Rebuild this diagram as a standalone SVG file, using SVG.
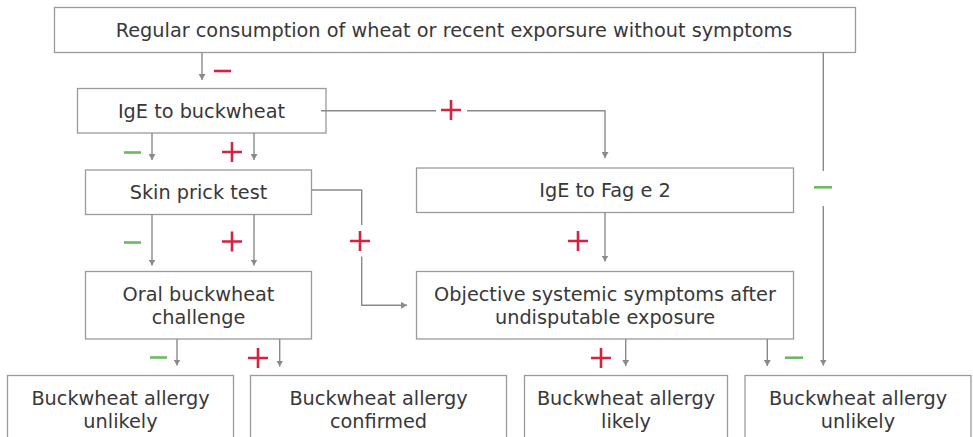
<svg xmlns="http://www.w3.org/2000/svg" width="973" height="437" viewBox="0 0 973 437">
  <style>
    .box { fill: #ffffff; stroke: #9a9a9a; stroke-width: 1.3; }
    .lbl { font-family: "DejaVu Sans", "Liberation Sans", sans-serif; font-size: 19.3px; fill: #383838; text-anchor: middle; }
    .wire { fill: none; stroke: #8a8a8a; stroke-width: 1.4; }
    .arr { marker-end: url(#tip); }
    .pos { stroke: #d3233f; stroke-width: 2.6; fill: none; }
    .neg { stroke: #6cb865; stroke-width: 2.6; fill: none; }
    .negr { stroke: #d3233f; stroke-width: 2.6; fill: none; }
  </style>
  <defs>
    <marker id="tip" viewBox="0 0 6 7" refX="6" refY="3.5" markerWidth="6" markerHeight="7" markerUnits="userSpaceOnUse" orient="auto">
      <path d="M0,0 L6,3.5 L0,7 Z" fill="#8a8a8a"/>
    </marker>
  </defs>

  <rect width="973" height="437" fill="#ffffff"/>

  <!-- nodes -->
  <g id="start">
    <rect class="box" x="54.5" y="7.5" width="801" height="45"/>
    <text class="lbl" x="454" y="37">Regular consumption of wheat or recent exporsure without symptoms</text>
  </g>
  <g id="ige-buckwheat">
    <rect class="box" x="77.5" y="88.5" width="248.5" height="44.5"/>
    <text class="lbl" x="201.5" y="117.5">IgE to buckwheat</text>
  </g>
  <g id="skin-prick">
    <rect class="box" x="85.5" y="170" width="226" height="44.5"/>
    <text class="lbl" x="198.5" y="198.5">Skin prick test</text>
  </g>
  <g id="ige-fag">
    <rect class="box" x="416.5" y="168" width="377" height="44.5"/>
    <text class="lbl" x="605" y="197">IgE to Fag e 2</text>
  </g>
  <g id="oral-challenge">
    <rect class="box" x="85.5" y="271.5" width="226" height="67.5"/>
    <text class="lbl" x="198.5" y="300.5">Oral buckwheat</text>
    <text class="lbl" x="198.5" y="324">challenge</text>
  </g>
  <g id="objective-symptoms">
    <rect class="box" x="416.5" y="271.5" width="377" height="67.5"/>
    <text class="lbl" x="605" y="300.5">Objective systemic symptoms after</text>
    <text class="lbl" x="605" y="324">undisputable exposure</text>
  </g>
  <g id="unlikely-left">
    <rect class="box" x="7.5" y="375.5" width="226" height="75"/>
    <text class="lbl" x="120.5" y="405">Buckwheat allergy</text>
    <text class="lbl" x="120.5" y="428">unlikely</text>
  </g>
  <g id="confirmed">
    <rect class="box" x="250.5" y="375.5" width="256" height="75"/>
    <text class="lbl" x="378.5" y="405">Buckwheat allergy</text>
    <text class="lbl" x="378.5" y="428">confirmed</text>
  </g>
  <g id="likely">
    <rect class="box" x="524.5" y="375.5" width="203" height="75"/>
    <text class="lbl" x="626" y="405">Buckwheat allergy</text>
    <text class="lbl" x="626" y="428">likely</text>
  </g>
  <g id="unlikely-right">
    <rect class="box" x="745" y="375.5" width="226" height="75"/>
    <text class="lbl" x="858" y="405">Buckwheat allergy</text>
    <text class="lbl" x="858" y="428">unlikely</text>
  </g>

  <!-- connectors -->
  <g id="connectors">
    <path class="wire arr" d="M202,52.5 V80"/>
    <path class="wire" d="M321,110.7 H436"/>
    <path class="wire arr" d="M467,110.7 H605 V158"/>
    <path class="wire arr" d="M152,133 V160"/>
    <path class="wire arr" d="M254,133 V160"/>
    <path class="wire" d="M311.5,190 H361.7 V225"/>
    <path class="wire arr" d="M361.7,256.5 V305.3 H407"/>
    <path class="wire arr" d="M605,212.5 V261.5"/>
    <path class="wire arr" d="M152,214.5 V265.5"/>
    <path class="wire arr" d="M254,214.5 V265.5"/>
    <path class="wire arr" d="M177,339 V365.5"/>
    <path class="wire arr" d="M279.7,339 V366.5"/>
    <path class="wire arr" d="M625.7,339 V366"/>
    <path class="wire arr" d="M767.3,339 V366"/>
    <path class="wire" d="M823.3,52.5 V171"/>
    <path class="wire arr" d="M823.3,206 V365.5"/>
  </g>

  <!-- outcome signs -->
  <g id="signs">
    <path class="negr" d="M214,71 H231"/>
    <path class="pos" d="M441,110 H461 M451,100 V120"/>
    <path class="neg" d="M124,152.5 H141"/>
    <path class="pos" d="M222,152 H242 M232,142 V162"/>
    <path class="neg" d="M814,187.3 H832"/>
    <path class="neg" d="M124,242.5 H141"/>
    <path class="pos" d="M222,241.5 H242 M232,231.5 V251.5"/>
    <path class="pos" d="M350,241 H370 M360,231 V251"/>
    <path class="pos" d="M568,241 H588 M578,231 V251"/>
    <path class="neg" d="M150,357.5 H167"/>
    <path class="pos" d="M248,358 H268 M258,348 V368"/>
    <path class="pos" d="M591,358 H611 M601,348 V368"/>
    <path class="neg" d="M785,357.7 H803"/>
  </g>
</svg>
